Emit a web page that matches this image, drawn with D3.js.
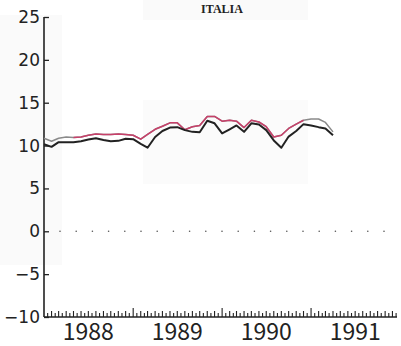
<!DOCTYPE html>
<html><head><meta charset="utf-8">
<script src="https://cdn.jsdelivr.net/npm/d3@7"></script>
<style>html,body{margin:0;padding:0;background:#fff;}svg{display:block;}</style>
</head><body>
<script>
const title = "ITALIA";
const startYear = 1988;
const yearLabels = ["1988","1989","1990","1991"];
const yTicks = [25,20,15,10,5,0,-5,-10];
// monthly values from Jan 1988
const seriesBlack = [10.15,9.85,10.4,10.4,10.4,10.5,10.7,10.85,10.65,10.5,10.55,10.8,
  10.75,10.2,9.75,11.0,11.7,12.1,12.15,11.8,11.6,11.55,12.9,12.6,
  11.42,11.9,12.35,11.6,12.6,12.45,11.8,10.6,9.75,11.05,11.7,12.5,
  12.35,12.15,12.0,11.2];
const seriesUpper = [10.85,10.5,10.85,11.0,10.95,11.0,11.2,11.35,11.3,11.3,11.35,11.3,
  11.2,10.75,11.3,11.9,12.25,12.65,12.65,11.85,12.2,12.35,13.4,13.4,
  12.85,12.95,12.85,12.1,12.95,12.75,12.2,11.0,11.2,12.0,12.5,12.95,
  13.1,13.1,12.7,11.6];
const redFrom = 4, redTo = 35;

const W = 401, H = 346;
const svg = d3.select("body").append("svg").attr("width", W).attr("height", H);
// faint scan tone patches
svg.append("rect").attr("x",0).attr("y",15).attr("width",62).attr("height",250).attr("fill","#fafafa");
svg.append("rect").attr("x",143).attr("y",0).attr("width",165).attr("height",20).attr("fill","#fafafa");
svg.append("rect").attr("x",143).attr("y",100).attr("width",165).attr("height",84).attr("fill","#fbfbfb");

const x = d3.scaleTime().domain([new Date(startYear,0,1), new Date(startYear+4,0,1)]).range([44, 400]);
const y = d3.scaleLinear().domain([-10, 25]).range([317, 17]);
const dates = seriesBlack.map((d,i) => new Date(startYear, i, 1));

// title
svg.append("text").attr("x", 222).attr("y", 13).attr("text-anchor","middle")
  .attr("font-family","Liberation Serif").attr("font-weight","bold").attr("font-size",12)
  .attr("fill","#222").text(title);

// y axis
const yAxis = d3.axisRight(y).tickValues(yTicks).tickSize(5).tickFormat(() => "");
const ya = svg.append("g").attr("transform","translate(44,0)").call(yAxis);
ya.select(".domain").attr("stroke","#222").attr("stroke-width",1.6).attr("d","M0,17V317");
ya.selectAll(".tick line").attr("stroke","#222").attr("stroke-width",1.3);
svg.append("g").selectAll("text").data(yTicks).join("text")
  .attr("x", 40).attr("y", d => y(d) + 6).attr("text-anchor","end")
  .attr("font-family","DejaVu Sans").attr("font-size",17).attr("fill","#222")
  .text(d => d < 0 ? "\u2212" + Math.abs(d) : d);

// x axis baseline and ticks
svg.append("line").attr("x1",44).attr("x2",397).attr("y1",y(-10)).attr("y2",y(-10))
  .attr("stroke","#222").attr("stroke-width",1.6);
const halfMonths = d3.range(1, 4*24).map(k => k);
svg.append("g").selectAll("line").data(halfMonths).join("line")
  .attr("x1", k => x(new Date(startYear, Math.floor(k/2), k%2 ? 16 : 1)))
  .attr("x2", k => x(new Date(startYear, Math.floor(k/2), k%2 ? 16 : 1)))
  .attr("y1", y(-10))
  .attr("y2", k => y(-10) - (k % 24 === 0 ? 9 : (k % 2 === 0 ? 6 : 4)))
  .attr("stroke","#222").attr("stroke-width",1.1);
svg.append("g").selectAll("text").data(yearLabels).join("text")
  .attr("x", (d,i) => x(new Date(startYear+i, 6, 1)))
  .attr("y", 340).attr("text-anchor","middle")
  .attr("font-family","Noto Sans CJK JP").attr("font-size",23).attr("fill","#222")
  .text(d => d);

// dotted zero line
svg.append("g").selectAll("circle").data(d3.range(0, 21)).join("circle")
  .attr("cx", k => 60 + k*16.2).attr("cy", y(0)).attr("r", 0.8).attr("fill","#555");

// lines
const line = d3.line().x((d,i) => x(dates[i])).y(d => y(d));
svg.append("path").datum(seriesUpper).attr("d", line)
  .attr("fill","none").attr("stroke","#8a8a8a").attr("stroke-width",1.5).attr("stroke-linejoin","round");
const redLine = d3.line().x(d => x(dates[d])).y(d => y(seriesUpper[d]));
svg.append("path").datum(d3.range(redFrom, redTo+1)).attr("d", redLine)
  .attr("fill","none").attr("stroke","#c8406a").attr("stroke-width",1.5).attr("stroke-linejoin","round");
svg.append("path").datum(seriesBlack).attr("d", line)
  .attr("fill","none").attr("stroke","#222").attr("stroke-width",2).attr("stroke-linejoin","round");
</script>
</body></html>
